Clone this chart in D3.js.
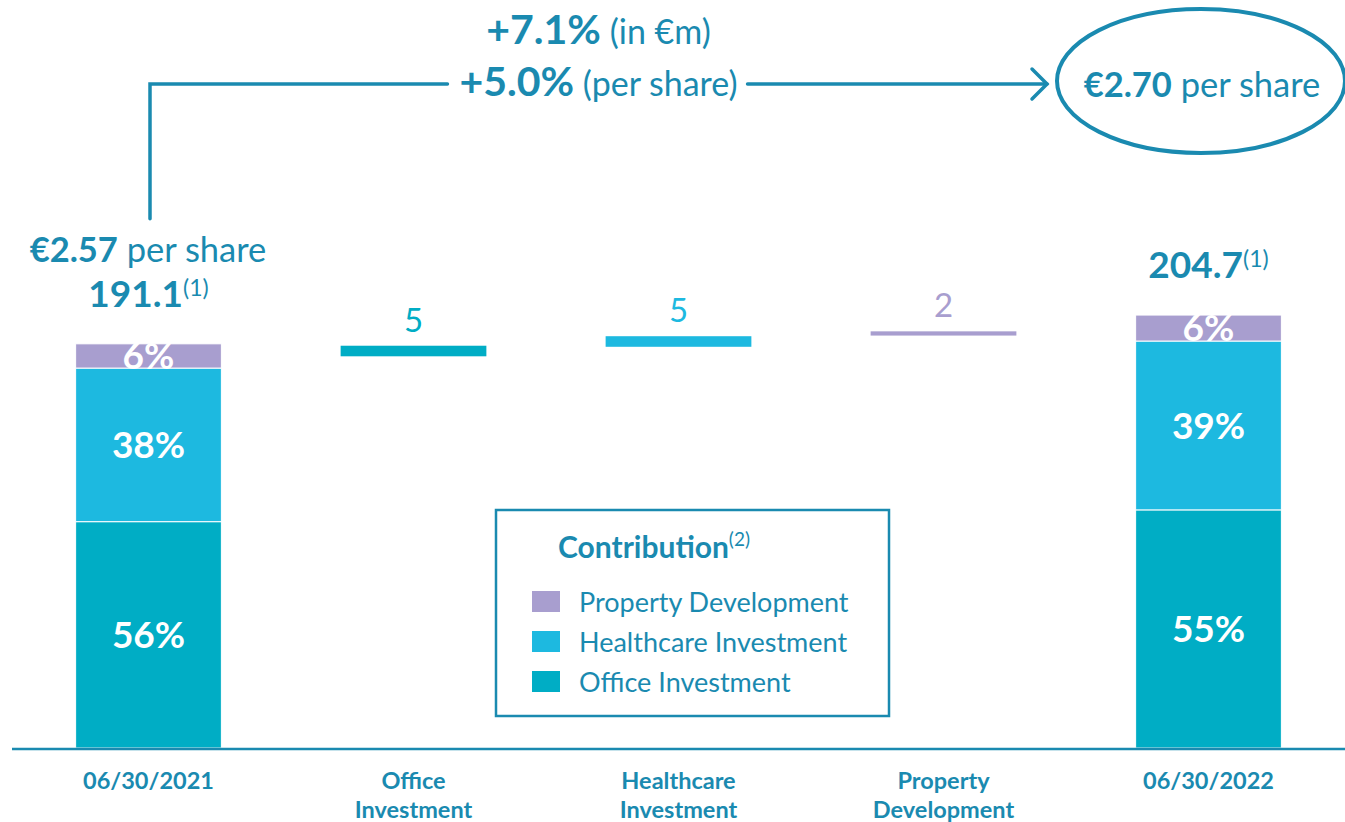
<!DOCTYPE html>
<html>
<head>
<meta charset="utf-8">
<script src="https://cdn.jsdelivr.net/npm/d3@7"></script>
<style>
  body { margin: 0; background: #fff; }
  text { font-family: Lato, "Open Sans", sans-serif; }
</style>
</head>
<body>
<svg id="chart"></svg>
<script>
// DATA
const categories = ["06/30/2021", "Office Investment", "Healthcare Investment", "Property Development", "06/30/2022"];
const segments = ["Office Investment", "Healthcare Investment", "Property Development"];
const totals = [191.1, 204.7];            // €m, opening and closing bars
const sharesStart = [56, 38, 6];           // % office, healthcare, property
const sharesEnd = [55, 39, 6];
const stepValues = [5, 5, 2];              // change per segment, €m
const stepBase = [185.2, 189.7, 195.0];    // where each step sits, as drawn
const perShare = ["€2.57", "€2.70"];
const growth = [["+7.1%", " (in €m)"], ["+5.0%", " (per share)"]];

// DIMENSIONS AND CONSTANTS
const dims = { width: 1345, height: 822 };
const baseY = 749;
const dark = "#1a8ab0";
const colors = {
  "Office Investment": "#00adc5",
  "Healthcare Investment": "#1db9e0",
  "Property Development": "#a89ecf",
};

const svg = d3.select("#chart")
  .attr("width", dims.width)
  .attr("height", dims.height);

// SCALES
const x = d3.scaleBand()
  .domain(categories)
  .range([16, 1341])
  .paddingInner(0.45)
  .paddingOuter(0.225);

const y = d3.scaleLinear()
  .domain([0, 200])
  .range([748, 325]);

// STACKED START / END BARS
const rows = [
  { cat: categories[0], total: totals[0], shares: sharesStart },
  { cat: categories[4], total: totals[1], shares: sharesEnd },
].map((r) => {
  const o = { cat: r.cat, total: r.total };
  segments.forEach((s, i) => (o[s] = (r.shares[i] / 100) * r.total));
  o.shares = r.shares;
  return o;
});

const stacked = d3.stack().keys(segments)(rows);

const layers = svg.append("g")
  .selectAll("g.layer")
  .data(stacked)
  .join("g")
  .attr("class", "layer")
  .attr("fill", (d) => colors[d.key]);

layers.selectAll("rect")
  .data((d) => d)
  .join("rect")
  .attr("x", (d) => x(d.data.cat))
  .attr("width", x.bandwidth())
  .attr("y", (d) => y(d[1]))
  .attr("height", (d) => y(d[0]) - y(d[1]))
  .attr("stroke", "#fff")
  .attr("stroke-width", 1);

// percent labels inside segments
layers.each(function (layer, li) {
  d3.select(this)
    .selectAll("text")
    .data(layer)
    .join("text")
    .attr("x", (d) => x(d.data.cat) + x.bandwidth() / 2)
    .attr("y", (d) => (y(d[0]) + y(d[1])) / 2)
    .attr("dy", "0.36em")
    .attr("text-anchor", "middle")
    .attr("fill", "#fff")
    .attr("font-weight", 700)
    .attr("font-size", 37)
    .text((d) => d.data.shares[li] + "%");
});

// totals above bars
const totalLabels = svg.append("g")
  .selectAll("text")
  .data(rows)
  .join("text")
  .attr("x", (d) => x(d.cat) + x.bandwidth() / 2)
  .attr("y", (d) => y(d.total) - 37)
  .attr("text-anchor", "middle")
  .attr("fill", dark);

totalLabels.append("tspan")
  .attr("font-weight", 700)
  .attr("font-size", 37)
  .text((d) => d.total.toFixed(1));

totalLabels.append("tspan")
  .attr("font-size", 23)
  .attr("dy", -11)
  .text("(1)");

// STEP BARS
const steps = segments.map((s, i) => ({
  cat: categories[i + 1],
  key: s,
  value: stepValues[i],
  y0: stepBase[i],
  y1: stepBase[i] + stepValues[i],
}));

svg.append("g")
  .selectAll("rect")
  .data(steps)
  .join("rect")
  .attr("x", (d) => x(d.cat))
  .attr("width", x.bandwidth())
  .attr("y", (d) => y(d.y1))
  .attr("height", (d) => y(d.y0) - y(d.y1))
  .attr("fill", (d) => colors[d.key]);

svg.append("g")
  .selectAll("text")
  .data(steps)
  .join("text")
  .attr("x", (d) => x(d.cat) + x.bandwidth() / 2)
  .attr("y", (d) => y(d.y1) - 14)
  .attr("text-anchor", "middle")
  .attr("fill", (d) => colors[d.key])
  .attr("font-size", 33)
  .text((d) => d.value);

// X AXIS
svg.append("line")
  .attr("x1", 12)
  .attr("x2", dims.width)
  .attr("y1", baseY)
  .attr("y2", baseY)
  .attr("stroke", dark)
  .attr("stroke-width", 2.5);

const xAxis = svg.append("g")
  .attr("transform", `translate(0,${baseY})`)
  .call(d3.axisBottom(x).tickSize(0).tickFormat(""));

xAxis.select(".domain").remove();

xAxis.selectAll(".tick")
  .append("text")
  .attr("text-anchor", "middle")
  .attr("fill", dark)
  .attr("font-weight", 700)
  .attr("font-size", 23.5)
  .each(function (d) {
    const words = d.startsWith("0") ? [d] : d.split(" ");
    d3.select(this)
      .selectAll("tspan")
      .data(words)
      .join("tspan")
      .attr("x", 0)
      .attr("y", (w, i) => 40 + i * 28.5)
      .text((w) => w);
  });

// PER SHARE ANNOTATIONS
const leftX = x(categories[0]) + x.bandwidth() / 2 + 1.5;
const startTop = y(totals[0]) - 37 - 45;

svg.append("text")
  .attr("x", leftX - 2)
  .attr("y", startTop)
  .attr("text-anchor", "middle")
  .attr("fill", dark)
  .attr("font-size", 34.5)
  .call((t) => {
    t.append("tspan").attr("font-weight", 700).text(perShare[0]);
    t.append("tspan").text(" per share");
  });

// circled end value
const ell = { cx: 1201, cy: 81, rx: 144, ry: 72 };

svg.append("ellipse")
  .attr("cx", ell.cx)
  .attr("cy", ell.cy)
  .attr("rx", ell.rx)
  .attr("ry", ell.ry)
  .attr("fill", "none")
  .attr("stroke", dark)
  .attr("stroke-width", 4);

svg.append("text")
  .attr("x", ell.cx + 1)
  .attr("y", 97)
  .attr("text-anchor", "middle")
  .attr("fill", dark)
  .attr("font-size", 34.5)
  .call((t) => {
    t.append("tspan").attr("font-weight", 700).text(perShare[1]);
    t.append("tspan").text(" per share");
  });

// growth lines + connector
const tipX = ell.cx - ell.rx - 10;
const lineY = 84;
const midX = (leftX + tipX) / 2;

const growthText = svg.append("g")
  .selectAll("text")
  .data(growth)
  .join("text")
  .attr("x", midX)
  .attr("y", (d, i) => 44 + i * 52)
  .attr("text-anchor", "middle")
  .attr("fill", dark);

growthText.append("tspan")
  .attr("font-weight", 700)
  .attr("font-size", 41)
  .text((d) => d[0]);

growthText.append("tspan")
  .attr("font-size", 34)
  .text((d) => d[1]);

const box = growthText.filter((d, i) => i === 1).node().getBBox();

const connector = svg.append("g")
  .attr("fill", "none")
  .attr("stroke", dark)
  .attr("stroke-width", 3.5)
  .attr("stroke-linecap", "round");

connector.append("path")
  .attr("d", d3.line()([[leftX, startTop - 43], [leftX, lineY], [box.x - 12, lineY]]));

connector.append("path")
  .attr("d", d3.line()([[box.x + box.width + 10, lineY], [tipX, lineY]]));

connector.append("path")
  .attr("d", d3.line()([[tipX - 15, lineY - 15], [tipX, lineY], [tipX - 15, lineY + 15]]));

// LEGEND
const legend = svg.append("g").attr("transform", "translate(496,510)");

legend.append("rect")
  .attr("width", 393)
  .attr("height", 206)
  .attr("fill", "#fff")
  .attr("stroke", dark)
  .attr("stroke-width", 2.5);

legend.append("text")
  .attr("x", 62)
  .attr("y", 48)
  .attr("fill", dark)
  .call((t) => {
    t.append("tspan").attr("font-weight", 700).attr("font-size", 30).text("Contribution");
    t.append("tspan").attr("font-size", 19).attr("dy", -12).text("(2)");
  });

const items = legend.selectAll("g.item")
  .data(segments.slice().reverse())
  .join("g")
  .attr("class", "item")
  .attr("transform", (d, i) => `translate(36,${81 + i * 40})`);

items.append("rect")
  .attr("width", 28)
  .attr("height", 21)
  .attr("fill", (d) => colors[d]);

items.append("text")
  .attr("x", 47)
  .attr("y", 21)
  .attr("fill", dark)
  .attr("font-size", 27)
  .text((d) => d);
</script>
</body>
</html>
